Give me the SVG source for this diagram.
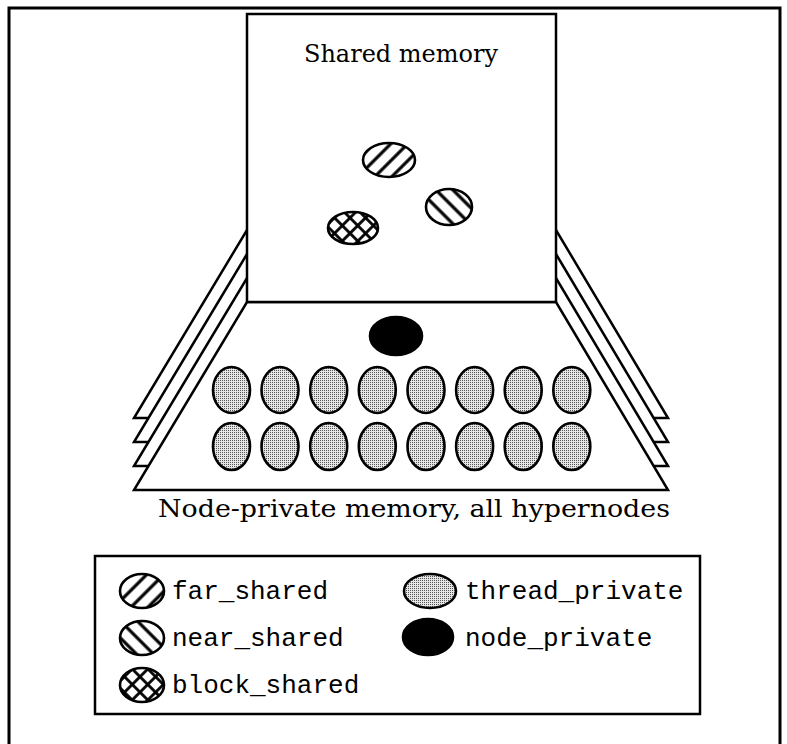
<svg xmlns="http://www.w3.org/2000/svg" width="787" height="744" viewBox="0 0 787 744">
  <style>
    .ln { fill: none; stroke: #000; stroke-width: 2.5; }
    .frame { fill: none; stroke: #000; stroke-width: 3; }
    .layer { fill: #fff; stroke: #000; stroke-width: 2.5; stroke-linejoin: miter; }
    .ell { stroke: #000; stroke-width: 2.6; }
    .thr { fill: url(#stipple); }
    .far { fill: url(#hatchFwd); }
    .near { fill: url(#hatchBack); }
    .blk { fill: url(#hatchCross); }
    .np { fill: #000; }
    .title { font-family: "DejaVu Serif", "Liberation Serif", serif; font-size: 24px; fill: #000; }
    .code { font-family: "Liberation Mono", "DejaVu Sans Mono", monospace; font-size: 26px; fill: #000; }
  </style>
  <defs>
    <pattern id="stipple" width="2" height="2" patternUnits="userSpaceOnUse">
      <rect width="2" height="2" fill="#e6e6e6"/>
      <rect width="1" height="1" fill="#555"/>
    </pattern>
    <pattern id="hatchFwd" width="12" height="12" patternUnits="userSpaceOnUse" patternTransform="rotate(45)">
      <rect width="12" height="12" fill="#fff"/>
      <line x1="6" y1="0" x2="6" y2="12" stroke="#000" stroke-width="3.2"/>
    </pattern>
    <pattern id="hatchBack" width="12" height="12" patternUnits="userSpaceOnUse" patternTransform="rotate(-45)">
      <rect width="12" height="12" fill="#fff"/>
      <line x1="6" y1="0" x2="6" y2="12" stroke="#000" stroke-width="3.2"/>
    </pattern>
    <pattern id="hatchCross" width="11" height="11" patternUnits="userSpaceOnUse" patternTransform="rotate(45)">
      <rect width="11" height="11" fill="#fff"/>
      <line x1="5.5" y1="0" x2="5.5" y2="11" stroke="#000" stroke-width="2.8"/>
      <line x1="0" y1="5.5" x2="11" y2="5.5" stroke="#000" stroke-width="2.8"/>
    </pattern>
  </defs>

  <rect width="787" height="744" fill="#fff"/>

  <!-- outer frame, open at the bottom -->
  <path class="frame" d="M9,748 V8 H780 V748"/>

  <!-- stacked node-private memory planes (back to front) -->
  <g id="planes">
    <polygon class="layer" points="247,230 556,230 668,418 134,418"/>
    <polygon class="layer" points="247,254 556,254 668,442 134,442"/>
    <polygon class="layer" points="247,278 556,278 668,466 134,466"/>
    <polygon class="layer" points="247,302 556,302 668,490 134,490"/>
  </g>

  <!-- shared memory plane -->
  <g id="shared-memory">
    <rect class="ln" x="247" y="14" width="309" height="288" style="fill:#fff"/>
    <text class="title" x="401" y="62" text-anchor="middle">Shared memory</text>
    <ellipse class="ell far" cx="389" cy="160" rx="26" ry="17"/>
    <ellipse class="ell near" cx="449" cy="207" rx="23" ry="18"/>
    <ellipse class="ell blk" cx="353" cy="228" rx="25" ry="16"/>
  </g>

  <!-- node-private contents -->
  <g id="node-private">
    <ellipse class="ell np" cx="396" cy="336" rx="26" ry="19"/>
    <g id="threads-row1">
      <ellipse class="ell thr" cx="231.5" cy="390" rx="18.5" ry="23"/>
      <ellipse class="ell thr" cx="280" cy="390" rx="18.5" ry="23"/>
      <ellipse class="ell thr" cx="328.7" cy="390" rx="18.5" ry="23"/>
      <ellipse class="ell thr" cx="377.3" cy="390" rx="18.5" ry="23"/>
      <ellipse class="ell thr" cx="426" cy="390" rx="18.5" ry="23"/>
      <ellipse class="ell thr" cx="474.6" cy="390" rx="18.5" ry="23"/>
      <ellipse class="ell thr" cx="523.2" cy="390" rx="18.5" ry="23"/>
      <ellipse class="ell thr" cx="571.8" cy="390" rx="18.5" ry="23"/>
    </g>
    <g id="threads-row2">
      <ellipse class="ell thr" cx="231.5" cy="446.5" rx="18.5" ry="23.5"/>
      <ellipse class="ell thr" cx="280" cy="446.5" rx="18.5" ry="23.5"/>
      <ellipse class="ell thr" cx="328.7" cy="446.5" rx="18.5" ry="23.5"/>
      <ellipse class="ell thr" cx="377.3" cy="446.5" rx="18.5" ry="23.5"/>
      <ellipse class="ell thr" cx="426" cy="446.5" rx="18.5" ry="23.5"/>
      <ellipse class="ell thr" cx="474.6" cy="446.5" rx="18.5" ry="23.5"/>
      <ellipse class="ell thr" cx="523.2" cy="446.5" rx="18.5" ry="23.5"/>
      <ellipse class="ell thr" cx="571.8" cy="446.5" rx="18.5" ry="23.5"/>
    </g>
    <text class="title" x="414" y="517" text-anchor="middle" textLength="512" lengthAdjust="spacingAndGlyphs">Node-private memory, all hypernodes</text>
  </g>

  <!-- legend -->
  <g id="legend">
    <rect class="ln" x="95" y="556" width="605" height="158"/>
    <ellipse class="ell far" cx="142" cy="591" rx="22" ry="17"/>
    <text class="code" x="172" y="599">far_shared</text>
    <ellipse class="ell near" cx="142" cy="638" rx="22" ry="17"/>
    <text class="code" x="172" y="646">near_shared</text>
    <ellipse class="ell blk" cx="142" cy="685" rx="22" ry="17"/>
    <text class="code" x="172" y="693">block_shared</text>
    <ellipse class="ell thr" cx="430" cy="591" rx="26" ry="17"/>
    <text class="code" x="465" y="599">thread_private</text>
    <ellipse class="ell np" cx="428" cy="637" rx="25" ry="18"/>
    <text class="code" x="465" y="646">node_private</text>
  </g>
</svg>
